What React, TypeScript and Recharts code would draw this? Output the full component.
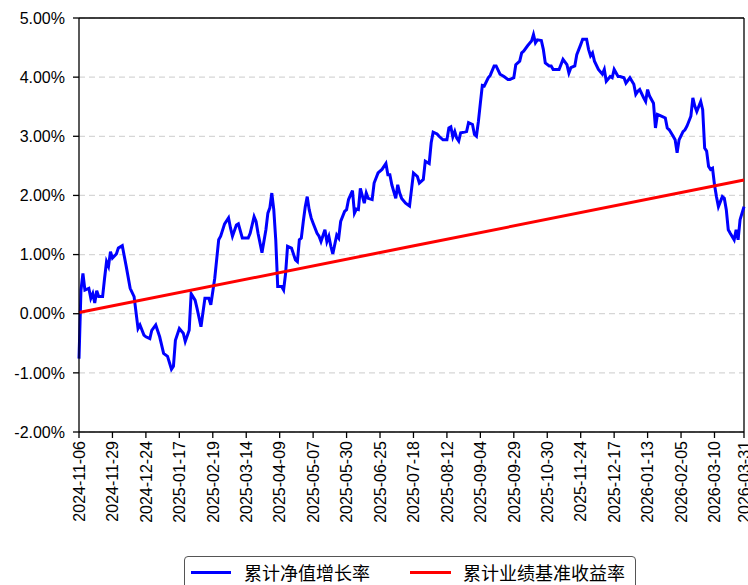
import { LineChart, Line, XAxis, YAxis, CartesianGrid, ReferenceLine } from "recharts";

// trading-day index from 2024-11-06 (0) to 2026-03-31 (338)
const tickDays = [0, 17, 34, 51, 68, 85, 102, 119, 136, 153, 170, 187, 204, 221, 238, 255, 272, 289, 306, 323, 338];
const tickLabels = [
  "2024-11-06", "2024-11-29", "2024-12-24", "2025-01-17", "2025-02-19", "2025-03-14",
  "2025-04-09", "2025-05-07", "2025-05-30", "2025-06-25", "2025-07-18", "2025-08-12",
  "2025-09-04", "2025-09-29", "2025-10-30", "2025-11-24", "2025-12-17", "2026-01-13",
  "2026-02-05", "2026-03-10", "2026-03-31",
];

const navDays = [
  0, 1, 2, 3, 5, 6, 7, 8, 9, 10, 12, 13, 14, 15, 16, 17, 19, 20, 22, 24, 26, 28, 30, 31, 33, 34, 36, 37, 39, 41,
  43, 45, 47, 48, 49, 51, 53, 54, 56, 57, 59, 60, 62, 64, 66, 67, 69, 71, 72, 74, 76, 77, 78, 80, 81, 83, 84, 86, 87, 89,
  90, 91, 93, 95, 96, 97, 98, 99, 100, 101, 103, 104, 105, 106, 108, 110, 111, 112, 113, 114, 115, 116, 117,
  118, 119, 121, 122, 123, 125, 126, 127, 128, 129, 131, 132, 133, 135, 136, 137, 139, 140, 141, 142, 143, 145, 146, 147,
  149, 150, 152, 154, 156, 157, 158, 159, 161, 162, 163, 164, 166, 168, 170, 172, 173, 175, 176, 178, 179, 180, 182, 183,
  185, 187, 188, 189, 190, 191, 192, 193, 194, 196, 197, 198, 200, 201, 202, 203, 204, 205, 206, 208, 209, 211, 212, 214,
  216, 218, 219, 221, 222, 224, 225, 226, 228, 230, 231, 232, 233, 235, 236, 237, 239,
  240, 241, 243, 244, 246, 248, 249, 250, 252, 253, 255, 256, 258, 259, 260, 261, 262, 264, 266, 267, 268, 270, 271, 272,
  274, 275, 277, 278, 280, 282, 283, 284, 285, 287, 288, 289, 290, 292, 293, 294, 296, 298, 299, 300, 302, 303, 304, 305,
  307, 308, 309, 311, 312, 313, 314, 316, 317, 318, 319, 320, 321, 322, 323, 324, 325, 327, 328, 329, 330, 331, 333, 334,
  335, 336, 338,
];
const navRates = [
  -0.76, 0.4, 0.68, 0.4, 0.43, 0.26, 0.34, 0.18, 0.39, 0.29, 0.29, 0.6, 0.88, 0.8, 1.05, 0.94, 1.01, 1.11, 1.15, 0.8, 0.43, 0.29, -0.25, -0.19, -0.36, -0.39, -0.42, -0.28, -0.19, -0.39,
  -0.67, -0.72, -0.94, -0.89, -0.45, -0.25, -0.33, -0.47, -0.28, 0.34, 0.23, 0.09, -0.22, 0.26, 0.26, 0.15, 0.6, 1.25, 1.31, 1.52, 1.62, 1.45, 1.31, 1.5, 1.52, 1.28, 1.28, 1.28, 1.36, 1.64,
  1.56, 1.36, 1.03, 1.42, 1.7, 1.79, 2.04, 1.76, 1.25, 0.46, 0.46, 0.4, 0.68, 1.14, 1.11, 0.91, 0.88, 1.25, 1.28, 1.56, 1.81, 1.98, 1.76,
  1.62, 1.53, 1.36, 1.31, 1.22, 1.42, 1.22, 1.31, 1.14, 1.01, 1.33, 1.28, 1.56, 1.73, 1.76, 1.93, 2.08, 1.7, 1.77, 1.76, 2.12, 1.87, 2.04, 1.95,
  1.93, 2.21, 2.38, 2.44, 2.54, 2.35, 2.35, 2.18, 1.95, 2.18, 2.04, 1.95, 1.87, 1.82, 2.38, 2.32, 2.21, 2.27, 2.58, 2.54, 2.89, 3.07, 3.04, 3.0,
  2.94, 2.94, 3.14, 3.16, 2.99, 3.08, 2.97, 2.92, 3.06, 3.07, 3.08, 3.23, 3.2, 3.03, 3.0, 3.25, 3.56, 3.86, 3.85, 3.99, 4.03, 4.19, 4.19, 4.05,
  4.01, 3.96, 3.96, 3.99, 4.21, 4.27, 4.41, 4.44, 4.53, 4.61, 4.72, 4.58, 4.63, 4.62, 4.47, 4.24, 4.19,
  4.19, 4.13, 4.13, 4.13, 4.3, 4.21, 4.07, 4.16, 4.19, 4.38, 4.55, 4.64, 4.64, 4.47, 4.36, 4.41, 4.27, 4.13, 4.05, 4.13, 3.93, 4.01, 3.99, 4.13,
  4.01, 4.01, 3.99, 3.9, 3.99, 3.88, 3.71, 3.76, 3.79, 3.65, 3.59, 3.79, 3.68, 3.56, 3.14, 3.37, 3.34, 3.31, 3.14, 3.11, 3.0, 2.94, 2.72, 2.94,
  3.08, 3.11, 3.17, 3.34, 3.65, 3.51, 3.42, 3.59, 3.45, 2.8, 2.75, 2.49, 2.44, 2.46, 2.18, 1.98, 1.81, 1.98, 1.95, 1.76, 1.42, 1.36, 1.25, 1.42,
  1.25, 1.59, 1.81,
];

const benchDays = [0, 169, 338];
const benchRates = [0.02, 1.14, 2.26];

const yTicks = [-2, -1, 0, 1, 2, 3, 4, 5];

const rows: { day: number; nav?: number; bench?: number }[] = [];
const byDay: Record<number, { day: number; nav?: number; bench?: number }> = {};
navDays.forEach((d, i) => {
  byDay[d] = { ...(byDay[d] || { day: d }), nav: navRates[i] };
});
benchDays.forEach((d, i) => {
  byDay[d] = { ...(byDay[d] || { day: d }), bench: benchRates[i] };
});
Object.keys(byDay)
  .map(Number)
  .sort((a, b) => a - b)
  .forEach((d) => rows.push(byDay[d]));

const FONT = "'Liberation Sans', Arial, sans-serif";

function DateTick(props: any) {
  const { x, y, payload } = props;
  const idx = tickDays.indexOf(payload.value);
  return (
    <text
      x={x}
      y={y}
      transform={`rotate(-90, ${x}, ${y})`}
      textAnchor="end"
      dy="0.36em"
      fontSize={16}
      fontFamily={FONT}
      fill="#000"
    >
      {tickLabels[idx] ?? ""}
    </text>
  );
}

export default function App() {
  return (
    <div style={{ position: "absolute", left: 0, top: 0, width: 748, height: 585, background: "#fff", overflow: "hidden" }}>
      <LineChart width={748} height={585} data={rows} margin={{ top: 18, right: 4, bottom: 53, left: 0 }}>
        <CartesianGrid vertical={false} stroke="#d6d6d6" strokeDasharray="6 4" strokeWidth={1.2} />
        <XAxis
          dataKey="day"
          type="number"
          domain={[0, 338]}
          ticks={tickDays}
          interval={0}
          height={100}
          tickSize={6}
          tickMargin={3}
          stroke="#000"
          strokeWidth={1.3}
          tickLine={{ stroke: "#000" }}
          tick={<DateTick />}
        />
        <YAxis
          type="number"
          domain={[-2, 5]}
          ticks={yTicks}
          interval={0}
          width={79}
          tickSize={6}
          tickMargin={8}
          stroke="#000"
          strokeWidth={1.3}
          tick={{ fontSize: 16, fontFamily: FONT, fill: "#000" }}
          tickFormatter={(v: number) => `${v.toFixed(2)}%`}
        />
        <ReferenceLine y={5} stroke="#000" strokeWidth={1.3} />
        <ReferenceLine x={338} stroke="#000" strokeWidth={1.3} />
        <Line
          dataKey="nav"
          type="linear"
          stroke="#0000ff"
          strokeWidth={3}
          dot={false}
          connectNulls
          isAnimationActive={false}
        />
        <Line
          dataKey="bench"
          type="linear"
          stroke="#ff0000"
          strokeWidth={3}
          dot={false}
          connectNulls
          isAnimationActive={false}
        />
      </LineChart>

      <div
        style={{
          position: "absolute",
          left: 184,
          top: 556,
          width: 452,
          height: 40,
          border: "1px solid #555",
          borderRadius: 4,
          boxSizing: "border-box",
          fontFamily: "'Noto Sans CJK SC', sans-serif",
          fontSize: 18,
          color: "#000",
        }}
      >
        <span style={{ position: "absolute", left: 6, top: 14, width: 40, height: 3, background: "#0000ff" }} />
        <span style={{ position: "absolute", left: 59, top: 3, lineHeight: "24px" }}>累计净值增长率</span>
        <span style={{ position: "absolute", left: 225, top: 14, width: 41, height: 3, background: "#ff0000" }} />
        <span style={{ position: "absolute", left: 278, top: 3, lineHeight: "24px" }}>累计业绩基准收益率</span>
      </div>
    </div>
  );
}
